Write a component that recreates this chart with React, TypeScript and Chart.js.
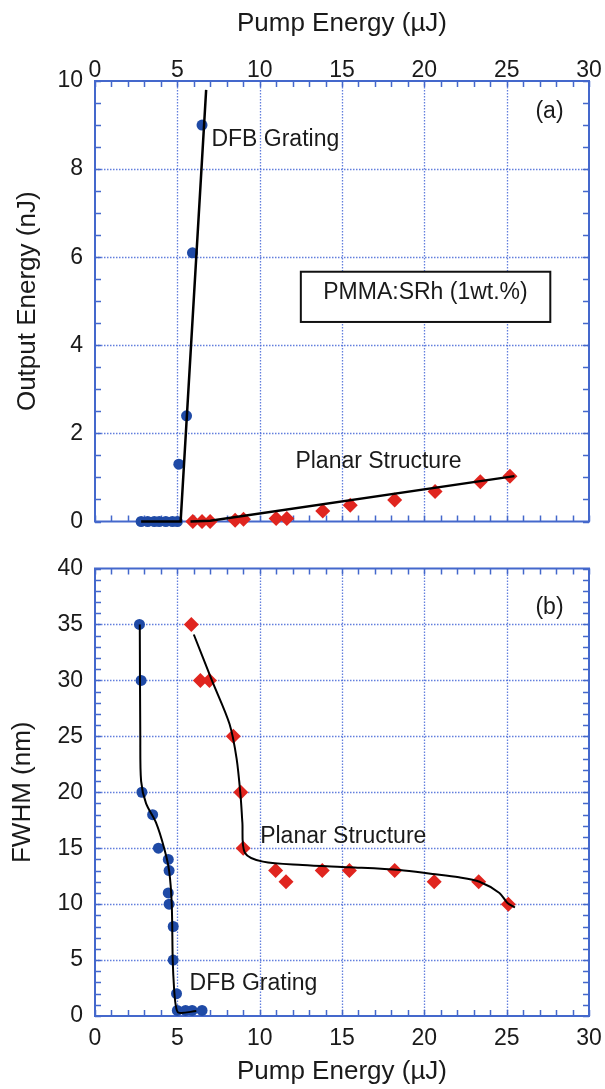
import React, { useEffect, useRef } from "react";
import { Chart, registerables } from "chart.js";

Chart.register(...registerables);

const FONT = "'Liberation Sans', Arial, Helvetica, sans-serif";
const BLUE = "#1f4aa6";
const RED = "#e0251f";
const FRAME = "#4468cc";
const GRID = "rgba(70,105,215,0.85)";
const TEXT = "#1a1a1a";

// shared axis
const pumpTicks = [0, 5, 10, 15, 20, 25, 30];
const pumpMinor = 1;

// Panel (a): output energy
const outTicks = [0, 2, 4, 6, 8, 10];
const outMinor = 0.5;
const dfbOutX = [2.8, 3.2, 3.6, 3.9, 4.3, 4.7, 5.0, 5.09, 5.56, 5.92, 6.5];
const dfbOutY = [0, 0, 0, 0, 0, 0, 0, 1.3, 2.4, 6.1, 9.0];
const dfbOutFitX = [2.8, 5.2, 6.75];
const dfbOutFitY = [0, 0, 9.8];
const planarOutX = [5.94, 6.5, 6.99, 8.51, 9.02, 11.0, 11.65, 13.83, 15.5, 18.2, 20.65, 23.4, 25.2];
const planarOutY = [0, 0, 0, 0.03, 0.05, 0.07, 0.07, 0.24, 0.37, 0.49, 0.68, 0.9, 1.03];
const planarOutFitX = [5.8, 7.0, 25.47];
const planarOutFitY = [0, 0.015, 1.03];

const panelALabels = ["DFB Grating", "(a)", "PMMA:SRh (1wt.%)", "Planar Structure"];
const panelALabelX = [7.07, 27.6, 20.07, 12.17];
const panelALabelY = [8.53, 9.16, 5.04, 1.22];
const panelAAlign = ["left", "center", "center", "left"];
const pmmaBoxX = [12.5, 27.65];
const pmmaBoxY = [4.53, 5.67];

// Panel (b): FWHM
const fwhmTicks = [0, 5, 10, 15, 20, 25, 30, 35, 40];
const fwhmMinor = 1;
const dfbFwhmX = [2.7, 2.8, 2.85, 3.5, 3.85, 4.45, 4.5, 4.45, 4.5, 4.75, 4.75, 4.95, 5.0, 5.5, 5.9, 6.5];
const dfbFwhmY = [35, 30, 20, 18, 15, 14, 13, 11, 10, 8, 5, 2, 0.5, 0.5, 0.5, 0.5];
const dfbFwhmFitX = [2.72, 2.75, 2.8, 3.1, 3.7, 4.2, 4.5, 4.66, 4.72, 4.8, 4.9, 5.07, 6.15];
const dfbFwhmFitY = [35, 25, 21, 19, 17.3, 15, 13, 10, 5, 2.5, 1, 0.3, 0.45];
const planarFwhmX = [5.85, 6.4, 6.95, 8.4, 8.85, 9.0, 10.97, 11.6, 13.8, 15.45, 18.2, 20.6, 23.3, 25.1];
const planarFwhmY = [35, 30, 30, 25, 20, 15, 13, 12, 13, 13, 13, 12, 12, 10];
const planarFwhmFitX = [6.0, 7.1, 8.17, 8.6, 8.85, 8.95, 9.1, 10.2, 12.6, 15.45, 18.5, 20.5, 22.1, 23.35, 24.56, 25.05, 25.5];
const planarFwhmFitY = [34.1, 30, 26.1, 23, 19.5, 17.3, 14.6, 13.8, 13.5, 13.3, 13.05, 12.7, 12.4, 12.0, 11.0, 10.1, 9.7];

const panelBLabels = ["(b)", "Planar Structure", "DFB Grating"];
const panelBLabelX = [27.6, 10.03, 5.74];
const panelBLabelY = [35.9, 15.5, 2.3];
const panelBAlign = ["center", "left", "left"];

const pts = (xs: number[], ys: number[]) => xs.map((x, i) => ({ x, y: ys[i] }));

function framePlugin(xMinor: number, yMinor: number) {
  return {
    id: "frame",
    beforeDatasetsDraw(chart: any) {
      const { ctx, chartArea: a } = chart;
      const xs = chart.scales.x;
      const ys = chart.scales.y;
      ctx.save();
      ctx.strokeStyle = GRID;
      ctx.lineWidth = 1.3;
      ctx.setLineDash([1.5, 1.5]);
      xs.ticks.forEach((t: any) => {
        const px = Math.round(xs.getPixelForValue(t.value)) + 0.5;
        if (px > a.left + 2 && px < a.right - 2) {
          ctx.beginPath();
          ctx.moveTo(px, a.top);
          ctx.lineTo(px, a.bottom);
          ctx.stroke();
        }
      });
      ys.ticks.forEach((t: any) => {
        const py = Math.round(ys.getPixelForValue(t.value)) + 0.5;
        if (py > a.top + 2 && py < a.bottom - 2) {
          ctx.beginPath();
          ctx.moveTo(a.left, py);
          ctx.lineTo(a.right, py);
          ctx.stroke();
        }
      });
      ctx.setLineDash([]);
      ctx.strokeStyle = FRAME;
      ctx.lineWidth = 1.5;
      const tl = 6;
      for (let v = xs.min; v <= xs.max + 1e-9; v += xMinor) {
        const px = Math.round(xs.getPixelForValue(v)) + 0.5;
        ctx.beginPath();
        ctx.moveTo(px, a.top);
        ctx.lineTo(px, a.top + tl);
        ctx.moveTo(px, a.bottom);
        ctx.lineTo(px, a.bottom - tl);
        ctx.stroke();
      }
      for (let v = ys.min; v <= ys.max + 1e-9; v += yMinor) {
        const py = Math.round(ys.getPixelForValue(v)) + 0.5;
        ctx.beginPath();
        ctx.moveTo(a.left, py);
        ctx.lineTo(a.left + tl, py);
        ctx.moveTo(a.right, py);
        ctx.lineTo(a.right - tl, py);
        ctx.stroke();
      }
      ctx.lineWidth = 2;
      ctx.strokeRect(a.left, a.top, a.right - a.left, a.bottom - a.top);
      ctx.restore();
    },
  };
}

function labelPlugin(texts: string[], lx: number[], ly: number[], align: string[], box?: { x: number[]; y: number[] }) {
  return {
    id: "labels",
    afterDatasetsDraw(chart: any) {
      const { ctx } = chart;
      const xs = chart.scales.x;
      const ys = chart.scales.y;
      ctx.save();
      if (box) {
        const x0 = xs.getPixelForValue(box.x[0]);
        const x1 = xs.getPixelForValue(box.x[1]);
        const y0 = ys.getPixelForValue(box.y[1]);
        const y1 = ys.getPixelForValue(box.y[0]);
        ctx.fillStyle = "#ffffff";
        ctx.fillRect(x0, y0, x1 - x0, y1 - y0);
        ctx.strokeStyle = "#111";
        ctx.lineWidth = 2;
        ctx.strokeRect(x0, y0, x1 - x0, y1 - y0);
      }
      ctx.fillStyle = TEXT;
      ctx.font = `23px ${FONT}`;
      ctx.textBaseline = "alphabetic";
      texts.forEach((t, i) => {
        ctx.textAlign = align[i];
        ctx.fillText(t, xs.getPixelForValue(lx[i]), ys.getPixelForValue(ly[i]));
      });
      ctx.restore();
    },
  };
}

function makeChart(canvas: HTMLCanvasElement, top: boolean) {
  const tickFont = { family: FONT, size: 23, lineHeight: 1 };
  const titleFont = { family: FONT, size: 26, lineHeight: 1.2 };
  const datasets = top
    ? [
        { data: pts(dfbOutFitX, dfbOutFitY), showLine: true, borderColor: "#000", borderWidth: 2.5, pointRadius: 0, tension: 0, clip: false },
        { data: pts(planarOutFitX, planarOutFitY), showLine: true, borderColor: "#000", borderWidth: 2.5, pointRadius: 0, tension: 0, clip: false },
        { data: pts(dfbOutX, dfbOutY), showLine: false, pointStyle: "circle", pointRadius: 5.5, backgroundColor: BLUE, borderColor: BLUE, borderWidth: 0, clip: false },
        { data: pts(planarOutX, planarOutY), showLine: false, pointStyle: "rectRot", pointRadius: 7.5, backgroundColor: RED, borderColor: RED, borderWidth: 0, clip: false },
      ]
    : [
        { data: pts(dfbFwhmFitX, dfbFwhmFitY), showLine: true, borderColor: "#000", borderWidth: 2, pointRadius: 0, tension: 0.3, clip: false },
        { data: pts(planarFwhmFitX, planarFwhmFitY), showLine: true, borderColor: "#000", borderWidth: 2, pointRadius: 0, tension: 0.3, clip: false },
        { data: pts(dfbFwhmX, dfbFwhmY), showLine: false, pointStyle: "circle", pointRadius: 5.5, backgroundColor: BLUE, borderColor: BLUE, borderWidth: 0, clip: false },
        { data: pts(planarFwhmX, planarFwhmY), showLine: false, pointStyle: "rectRot", pointRadius: 7.5, backgroundColor: RED, borderColor: RED, borderWidth: 0, clip: false },
      ];
  const yTicks = top ? outTicks : fwhmTicks;
  return new Chart(canvas, {
    type: "scatter",
    data: { datasets: datasets as any },
    options: {
      responsive: false,
      maintainAspectRatio: false,
      animation: false,
      devicePixelRatio: 1,
      layout: { padding: top ? { left: 0, right: 51, top: 0, bottom: 14 } : { left: 0, right: 51, top: 18, bottom: 0 } },
      plugins: { legend: { display: false }, tooltip: { enabled: false } },
      scales: {
        x: {
          type: "linear",
          position: top ? "top" : "bottom",
          min: pumpTicks[0],
          max: pumpTicks[pumpTicks.length - 1],
          afterBuildTicks: (s: any) => {
            s.ticks = pumpTicks.map((v) => ({ value: v }));
          },
          afterFit: (s: any) => {
            s.height = top ? 81 : 73;
          },
          grid: { display: false, drawTicks: false },
          border: { display: false },
          ticks: { font: tickFont, color: TEXT, padding: top ? -1 : 11, maxRotation: 0, autoSkip: false },
          title: {
            display: true,
            text: "Pump Energy (µJ)",
            font: titleFont,
            color: TEXT,
            padding: top ? { top: 8, bottom: 0 } : { top: 0, bottom: 2 },
          },
        },
        y: {
          type: "linear",
          min: yTicks[0],
          max: yTicks[yTicks.length - 1],
          afterBuildTicks: (s: any) => {
            s.ticks = yTicks.map((v) => ({ value: v }));
          },
          afterFit: (s: any) => {
            s.width = 95;
          },
          grid: { display: false, drawTicks: false },
          border: { display: false },
          ticks: { font: tickFont, color: TEXT, padding: 12, autoSkip: false },
          title: {
            display: true,
            text: top ? "Output Energy (nJ)" : "FWHM (nm)",
            font: titleFont,
            color: TEXT,
            padding: { top: top ? 12 : 7, bottom: 0 },
          },
        },
      },
    },
    plugins: [
      framePlugin(pumpMinor, top ? outMinor : fwhmMinor),
      top
        ? labelPlugin(panelALabels, panelALabelX, panelALabelY, panelAAlign, { x: pmmaBoxX, y: pmmaBoxY })
        : labelPlugin(panelBLabels, panelBLabelX, panelBLabelY, panelBAlign),
    ],
  } as any);
}

export default function App() {
  const topRef = useRef<HTMLCanvasElement>(null);
  const botRef = useRef<HTMLCanvasElement>(null);
  useEffect(() => {
    const c1 = makeChart(topRef.current!, true);
    const c2 = makeChart(botRef.current!, false);
    return () => {
      c1.destroy();
      c2.destroy();
    };
  }, []);
  return (
    <div style={{ position: "absolute", left: 0, top: 0, width: 605, height: 1089, overflow: "hidden", background: "#fff" }}>
      <canvas ref={topRef} width={640} height={545} style={{ position: "absolute", left: 0, top: 0, width: 640, height: 545 }} />
      <canvas ref={botRef} width={640} height={544} style={{ position: "absolute", left: 0, top: 545, width: 640, height: 544 }} />
    </div>
  );
}
